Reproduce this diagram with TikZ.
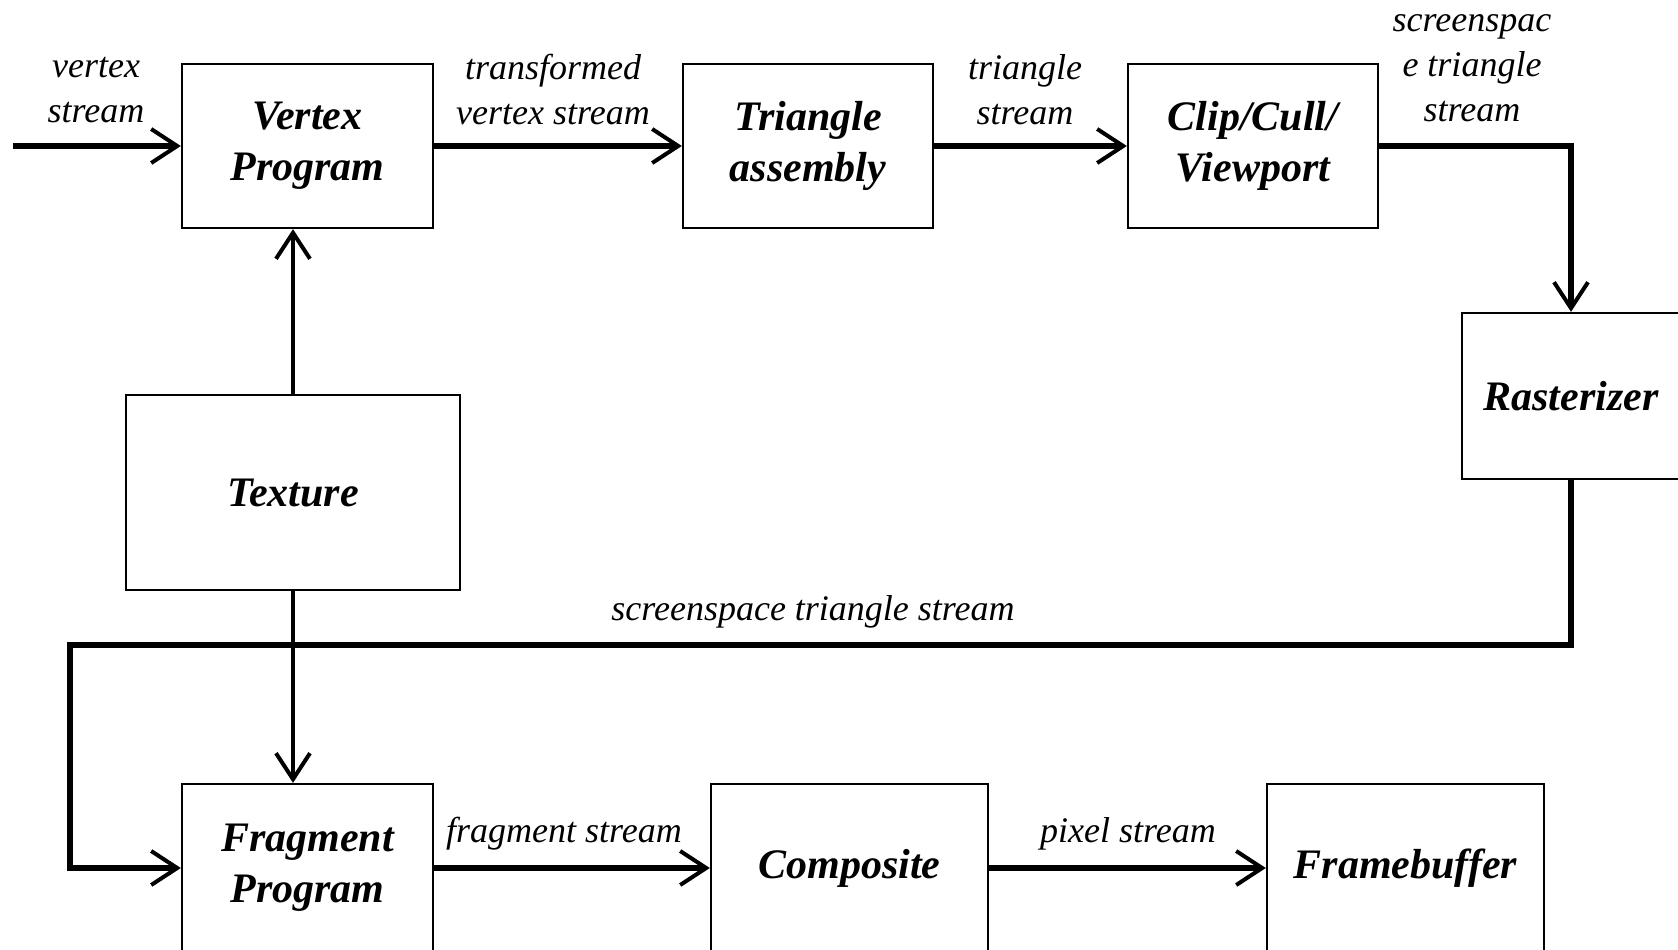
\documentclass[tikz,border=0pt]{standalone}
\usepackage{fontspec}
\setmainfont{Liberation Serif}
\usetikzlibrary{arrows.meta}
\begin{document}
\begin{tikzpicture}[x=1pt,y=-1pt,
  box/.style={draw, line width=2.3pt, minimum width=251pt, minimum height=164pt, inner sep=0pt,
    align=center, font=\fontsize{42}{51}\selectfont\bfseries\itshape},
  lbl/.style={align=center, inner sep=0pt, font=\fontsize{36}{45}\selectfont\itshape},
  flow/.style={line width=5.5pt, -{Straight Barb[length=26pt,width=34pt,line width=4pt]}},
  thinflow/.style={line width=4.5pt, -{Straight Barb[length=26pt,width=34pt,line width=4pt]}},
  line/.style={line width=5.5pt}]
\useasboundingbox (0,0) rectangle (1678,950);
\clip (0,0) rectangle (1678,950);
\fill[white] (0,0) rectangle (1678,950);

\node[box] (vp) at (307.5,146) {Vertex\\Program};
\node[box, minimum width=250pt] (ta) at (808,146) {Triangle\\assembly};
\node[box, minimum width=250pt] (ccv) at (1253,146) {Clip/Cull/\\Viewport};
\node[box, minimum width=218pt, minimum height=166pt] (ras) at (1571,396) {Rasterizer};
\node[box, minimum width=334pt, minimum height=195pt] (tex) at (293,492.5) {Texture};
\node[box, minimum height=168pt] (fp) at (307.5,868) {Fragment\\Program};
\node[box, minimum width=277pt, minimum height=168pt] (comp) at (849.5,868) {Composite};
\node[box, minimum width=277pt, minimum height=168pt] (fb) at (1405.5,868) {Framebuffer};

\coordinate (in) at (13,146);
\coordinate (bus) at (70,645);

\draw[flow] (in) -- (vp.west);
\draw[flow] (vp.east) -- (ta.west);
\draw[flow] (ta.east) -- (ccv.west);
\draw[flow] (ccv.east) -- (ras.north |- ccv.east) -- (ras.north);
\draw[thinflow] (tex.north) -- (tex.north |- vp.south);
\draw[thinflow] (tex.south) -- (tex.south |- fp.north);
\draw[flow] (ras.south) |- (bus) |- (fp.west);
\draw[flow] (fp.east) -- (comp.west);
\draw[flow] (comp.east) -- (fb.west);

\node[lbl] (l1) at (96,90) {vertex\\stream};
\node[lbl] (l2) at (553,90) {transformed\\vertex stream};
\node[lbl] (l3) at (1025,90) {triangle\\stream};
\node[lbl] (l4) at (1472,68) {screenspac\\e triangle\\stream};
\node[lbl] (l5) at (813,612) {screenspace triangle stream};
\node[lbl] (l6) at (564,834) {fragment stream};
\node[lbl] (l7) at (1128,834) {pixel stream};
\end{tikzpicture}
\end{document}
